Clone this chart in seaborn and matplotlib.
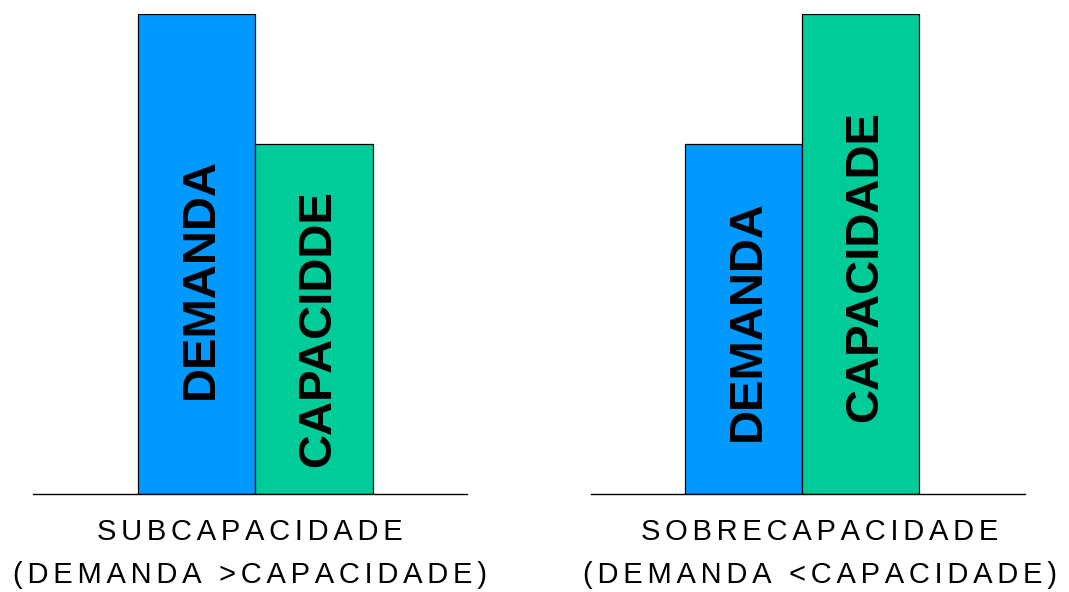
import matplotlib
matplotlib.use("Agg")
import matplotlib.pyplot as plt
import seaborn as sns
import pandas as pd

sns.set_style("white")
plt.rcParams['font.family'] = ['Liberation Sans', 'DejaVu Sans']

# Data
categories = ["DEMANDA", "CAPACIDADE"]
sub_values = [100, 73]      # SUBCAPACIDADE: demanda > capacidade
sobre_values = [73, 100]    # SOBRECAPACIDADE: demanda < capacidade
sub_bar_labels = ["DEMANDA", "CAPACIDDE"]
sobre_bar_labels = ["DEMANDA", "CAPACIDADE"]
panel_title_1 = ["SUBCAPACIDADE", "SOBRECAPACIDADE"]
panel_title_2 = ["(DEMANDA >CAPACIDADE)", "(DEMANDA <CAPACIDADE)"]
colors = ["#0099FF", "#00CC99"]

W, H = 1069, 592
fig = plt.figure(figsize=(W / 100, H / 100), dpi=100)

def px_axes(x0, x1, ytop, ybot):
    return fig.add_axes([x0 / W, (H - ybot) / H, (x1 - x0) / W, (ybot - ytop) / H])

def spaced(s):
    # emulate the wide letter spacing of the original caption
    return "\u200a\u200a".join(s)

panels = [
    dict(ax=px_axes(33, 467, 14, 494), vals=sub_values, labels=sub_bar_labels,
         xlim=(-1.39, 2.30), text_y=[44.9, 34.4], cap_x=0.5),
    dict(ax=px_axes(591, 1025, 14, 494), vals=sobre_values, labels=sobre_bar_labels,
         xlim=(-1.30, 2.40), text_y=[36.2, 47.3], cap_x=0.528),
]

for p, t1, t2 in zip(panels, panel_title_1, panel_title_2):
    ax = p["ax"]
    df = pd.DataFrame({"cat": categories, "val": p["vals"]})
    sns.barplot(data=df, x="cat", y="val", hue="cat", palette=colors, width=1.0,
                edgecolor="black", linewidth=0.9, legend=False, ax=ax, saturation=1)
    ax.set_xlim(*p["xlim"])
    ax.set_ylim(0, 100)
    for s in ["top", "right", "left"]:
        ax.spines[s].set_visible(False)
    ax.spines["bottom"].set_color("black")
    ax.spines["bottom"].set_linewidth(1.0)
    ax.set_xticks([])
    ax.set_yticks([])
    ax.set_xlabel("")
    ax.set_ylabel("")
    for i, (lab, ty) in enumerate(zip(p["labels"], p["text_y"])):
        ax.text(i + 0.035, ty, lab, rotation=90, ha="center", va="center",
                fontsize=34, fontweight="bold", color="black")
    ax.text(p["cap_x"], -0.0958, spaced(t1), transform=ax.transAxes, ha="center",
            va="baseline", fontsize=21, color="black")
    ax.text(p["cap_x"], -0.1854, spaced(t2), transform=ax.transAxes, ha="center",
            va="baseline", fontsize=21, color="black")

fig.savefig("out.png", dpi=100, facecolor="white")
